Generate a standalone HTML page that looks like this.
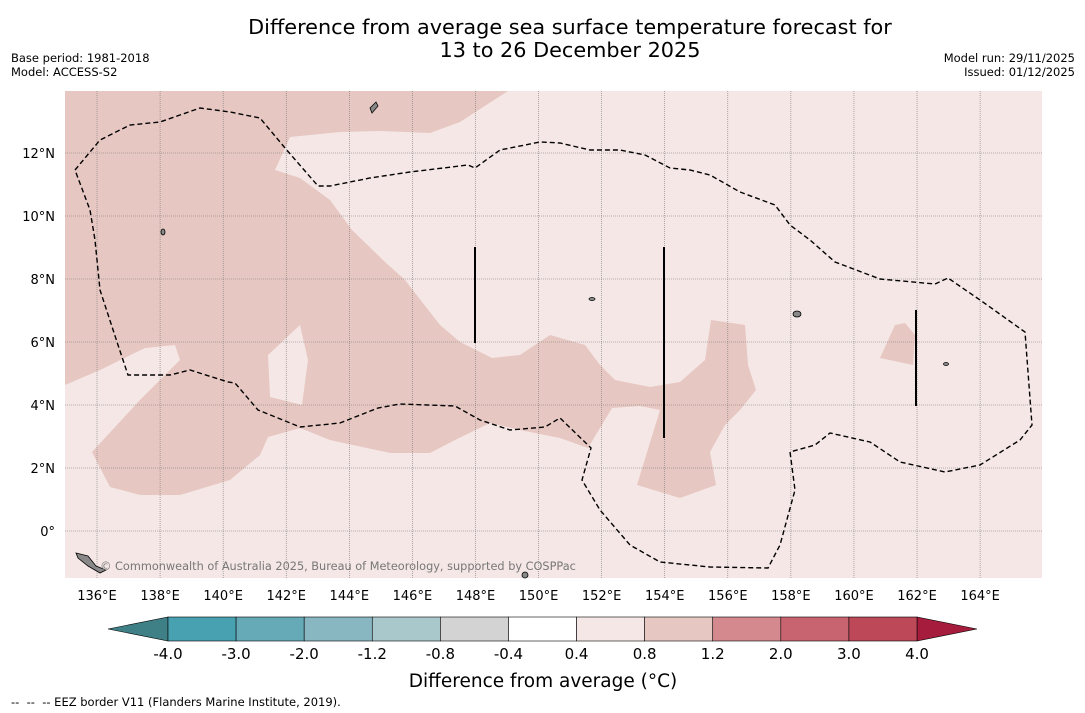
<!DOCTYPE html>
<html><head><meta charset="utf-8"><style>
body{margin:0;background:#fff;font-family:"DejaVu Sans","Liberation Sans",sans-serif;}
svg{display:block}
</style></head><body>
<svg width="1085" height="713" viewBox="0 0 1085 713">
<text x="570" y="34" text-anchor="middle" font-size="20.8">Difference from average sea surface temperature forecast for</text>
<text x="570" y="57" text-anchor="middle" font-size="20.8">13 to 26 December 2025</text>
<text x="11" y="62" font-size="11.5">Base period: 1981-2018</text>
<text x="11" y="76" font-size="11.5">Model: ACCESS-S2</text>
<text x="1075" y="62" font-size="11.5" text-anchor="end">Model run: 29/11/2025</text>
<text x="1075" y="76" font-size="11.5" text-anchor="end">Issued: 01/12/2025</text>
<g id="map">
<rect x="65" y="91" width="977" height="487" fill="#f4e7e5"/>
<path fill="#e7c7c2" fill-rule="evenodd" d="M65,91 L508,91 460,122 430,133 380,131 340,132 290,137 275,170 300,178 330,200 352,230 385,262 405,280 440,325 460,342 492,358 520,355 550,335 585,345 600,365 615,380 650,387 680,382 705,360 711,320 745,325 748,365 756,390 740,410 725,425 710,452 716,485 680,498 637,485 660,410 640,406 612,408 588,448 560,438 520,430 490,423 455,440 430,453 390,453 330,440 300,428 268,437 260,455 230,480 180,495 140,495 110,487 92,452 140,400 180,360 175,345 145,348 100,370 65,385 Z M268,355 L300,325 308,360 302,405 270,397 Z"/>
<path fill="#e7c7c2" d="M880,358 L895,325 905,323 915,335 913,365 Z"/>
<g id="grid" stroke="#777" stroke-width="0.6" stroke-dasharray="1,1"></g>
<path fill="none" stroke="#000" stroke-width="1.4" stroke-dasharray="5,3" d="M75,170 L100,140 130,125 160,122 200,108 230,112 260,118 285,148 318,186 330,186 370,178 410,172 468,165 475,168 500,150 540,142 560,143 590,150 620,150 645,155 670,168 690,170 710,175 740,192 775,205 790,225 810,240 835,262 880,279 935,284 948,278 980,300 1025,332 1032,425 1020,440 980,465 945,472 900,462 870,442 830,433 815,445 790,452 795,490 780,545 768,568 710,567 660,562 630,545 600,510 582,480 591,448 560,418 545,427 510,430 480,420 455,406 400,404 378,408 340,423 300,427 258,410 235,383 228,382 190,370 170,375 128,375 118,345 100,290 95,240 90,210 Z"/>
<g stroke="#000" stroke-width="2">
<line x1="475" y1="247" x2="475" y2="343"/><line x1="664" y1="247" x2="664" y2="438"/><line x1="916" y1="310" x2="916" y2="406"/>
</g>
<g fill="#888" stroke="#000" stroke-width="0.8">
<path d="M370,108 L376,102 378,106 372,113 Z"/><ellipse cx="797" cy="314" rx="4" ry="3"/><ellipse cx="592" cy="299" rx="3" ry="1.5"/><ellipse cx="946" cy="364" rx="2.5" ry="1.5"/><ellipse cx="163" cy="232" rx="2" ry="3"/>
<path d="M76,553 L88,556 96,566 106,570 100,573 88,566 78,558 Z"/><ellipse cx="525" cy="575" rx="3" ry="3"/>
</g>
<text x="338" y="570" font-size="11.3" fill="#777" text-anchor="middle">© Commonwealth of Australia 2025, Bureau of Meteorology, supported by COSPPac</text>
</g>
<g id="xlabels" font-size="13"></g>
<g id="ylabels" font-size="13"></g>
<g id="cbar"></g>
<text x="543" y="687" text-anchor="middle" font-size="18.5">Difference from average (°C)</text>
<text x="11" y="706" font-size="11.5">-- &#160;-- &#160;-- EEZ border V11 (Flanders Marine Institute, 2019).</text>
</svg>
<script>
const lonTicks=[136,138,140,142,144,146,148,150,152,154,156,158,160,162,164];
const latTicks=[0,2,4,6,8,10,12];
const cbLabels=["-4.0","-3.0","-2.0","-1.2","-0.8","-0.4","0.4","0.8","1.2","2.0","3.0","4.0"];
const cbColors=["#48a1b1","#66aab8","#88b7c2","#a9c8cc","#d3d3d3","#ffffff","#f4e7e5","#e7c7c2","#d4898f","#c7646f","#bc4858"];
const NS="http://www.w3.org/2000/svg";
const xS=l=>97+(l-136)*31.54, yS=t=>531-t*31.5;
const grid=document.getElementById('grid'),xl=document.getElementById('xlabels'),yl=document.getElementById('ylabels'),cb=document.getElementById('cbar');
function mk(tag,a,p){const e=document.createElementNS(NS,tag);for(const k in a)e.setAttribute(k,a[k]);p.appendChild(e);return e;}
lonTicks.forEach(l=>{const x=xS(l);
 const g=mk('line',{x1:x,x2:x,y1:91,y2:578},grid);
 
 
 const t=mk('text',{x:x,y:600,'text-anchor':'middle'},xl);t.textContent=l+'°E';
 
 });
latTicks.forEach(v=>{const y=yS(v);
 const g=mk('line',{x1:65,x2:1042,y1:y,y2:y},grid);
 
 
 const t=mk('text',{x:55,y:y+5,'text-anchor':'end'},yl);t.textContent=v===0?'0°':v+'°N';
 
 });
const x0=168,x1=917,w=(x1-x0)/cbColors.length,y0=617,h=24;
const lt=mk('polygon',{points:`${x0},${y0} ${x0},${y0+h} 108,${y0+h/2}`,fill:'#3f7f86',stroke:'#000','stroke-width':0.6},cb);


const rt=mk('polygon',{points:`${x1},${y0} ${x1},${y0+h} 977,${y0+h/2}`,fill:'#a51c3c',stroke:'#000','stroke-width':0.6},cb);


cbColors.forEach((c,i)=>{const r=mk('rect',{x:x0+i*w,y:y0,width:w,height:h,fill:c,stroke:'#000','stroke-width':0.6},cb);
 
 });
cbLabels.forEach((s,i)=>{const t=mk('text',{x:x0+i*w,y:659,'text-anchor':'middle','font-size':15},cb);t.textContent=s;
 
 });
</script>
</body></html>
